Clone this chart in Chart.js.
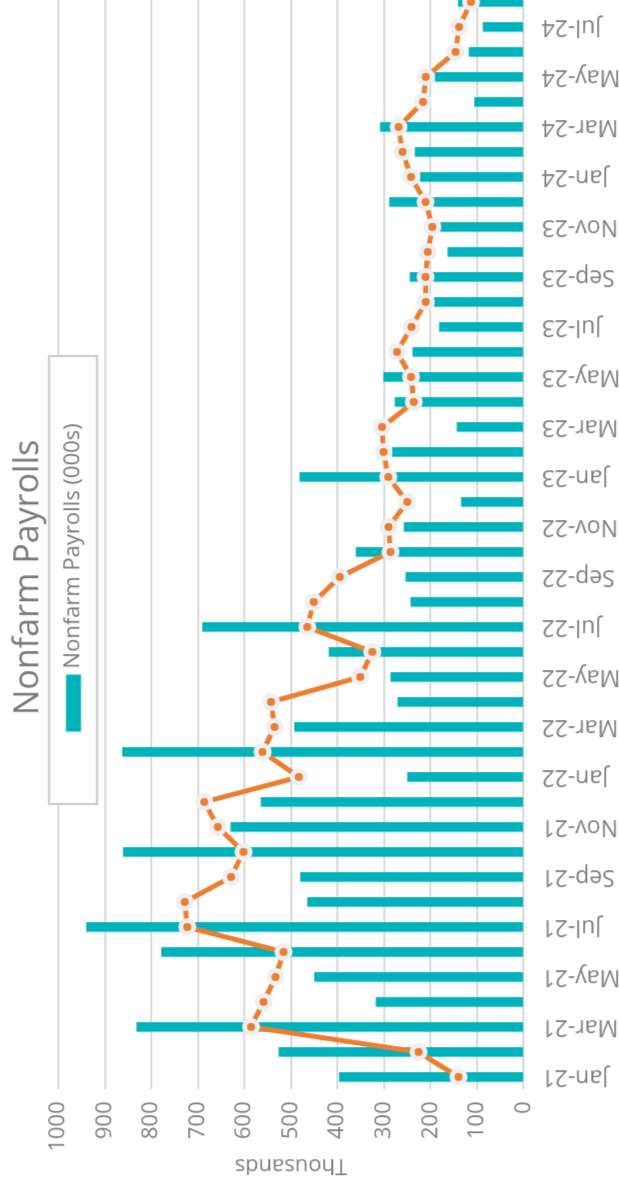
<!DOCTYPE html>
<html>
<head>
<meta charset="utf-8">
<script src="https://cdn.jsdelivr.net/npm/chart.js@4.4.1/dist/chart.umd.min.js"></script>
<style>
  html, body { margin: 0; padding: 0; background: #fff; width: 619px; height: 1179px; overflow: hidden; }
  /* chart is drawn landscape, then turned a quarter turn to the left */
  #wrap { position: absolute; left: 0; top: 0; transform-origin: 0 0; }
  canvas { display: block; }
</style>
</head>
<body>
<div id="wrap"></div>
<script>
const months = [
  "Jan-21", "Feb-21", "Mar-21", "Apr-21", "May-21", "Jun-21", "Jul-21", "Aug-21", "Sep-21", "Oct-21", "Nov-21", "Dec-21",
  "Jan-22", "Feb-22", "Mar-22", "Apr-22", "May-22", "Jun-22", "Jul-22", "Aug-22", "Sep-22", "Oct-22", "Nov-22", "Dec-22",
  "Jan-23", "Feb-23", "Mar-23", "Apr-23", "May-23", "Jun-23", "Jul-23", "Aug-23", "Sep-23", "Oct-23", "Nov-23", "Dec-23",
  "Jan-24", "Feb-24", "Mar-24", "Apr-24", "May-24", "Jun-24", "Jul-24", "Aug-24",
];

// monthly change, thousands
const payrolls = [
  396, 526, 831, 317, 449, 778, 939, 464, 479, 860, 629, 564,
  249, 862, 492, 270, 285, 418, 690, 242, 253, 360, 257, 134,
  481, 282, 143, 276, 301, 238, 181, 192, 244, 163, 179, 288,
  222, 233, 308, 105, 190, 117, 87, 140,
];

// 3-month average line
const average = [
  140, 226, 586, 559, 533, 516, 723, 728, 629, 602, 657, 686,
  483, 561, 535, 543, 351, 325, 465, 451, 395, 286, 290, 250,
  291, 301, 304, 236, 242, 272, 241, 210, 211, 206, 196, 211,
  242, 260, 269, 216, 210, 146, 139, 113,
];

const valueTicks = [0, 100, 200, 300, 400, 500, 600, 700, 800, 900, 1000];

const titleText = "Nonfarm Payrolls";
const textGray = "#7b7b7b";
const font = "'Open Sans', sans-serif";

// where the plot should land on the page (landscape coords before turning)
const PLOT_LEFT = 1089.5;   // page y of the category axis start
const PLOT_LEN = 1100;      // 44 months * 25px
const PLOT_TOP = 58.3;
const PLOT_DEPTH = 465;

// title plus boxed legend sitting over the top of the plot, like the spreadsheet one
const header = {
  id: "header",
  afterDraw(chart) {
    const ctx = chart.ctx;
    const a = chart.chartArea;
    ctx.save();
    ctx.fillStyle = textGray;
    ctx.font = "34px " + font;
    ctx.textAlign = "center";
    ctx.textBaseline = "middle";
    ctx.fillText(titleText, a.left + 512, a.top - 29.8);

    const cx = a.left + 509.5;
    const boxW = 448, boxH = 48, top = a.top - 9.3;
    ctx.fillStyle = "#fff";
    ctx.strokeStyle = "#c6c6c6";
    ctx.lineWidth = 2;
    ctx.fillRect(cx - boxW / 2, top, boxW, boxH);
    ctx.strokeRect(cx - boxW / 2, top, boxW, boxH);

    const label = chart.data.datasets[1].label;
    ctx.font = "22px " + font;
    ctx.textAlign = "left";
    const tw = ctx.measureText(label).width;
    const mw = 57, mh = 15, gap = 6;
    const x0 = a.left + 512 - (mw + gap + tw) / 2;
    ctx.fillStyle = chart.data.datasets[1].backgroundColor;
    ctx.fillRect(x0, top + 17, mw, mh);
    ctx.fillStyle = textGray;
    ctx.fillText(label, x0 + mw + gap, top + 24);
    ctx.restore();
  },
};

function build(w, h) {
  const wrap = document.getElementById("wrap");
  wrap.innerHTML = "";
  const canvas = document.createElement("canvas");
  canvas.width = w;
  canvas.height = h;
  canvas.style.width = w + "px";
  canvas.style.height = h + "px";
  wrap.appendChild(canvas);
  return new Chart(canvas.getContext("2d"), {
    type: "bar",
    data: {
      labels: months,
      datasets: [
        {
          type: "line",
          label: "3-month average",
          data: average,
          borderColor: "#ed7d31",
          borderWidth: 5,
          pointRadius: 6.5,
          pointBorderWidth: 5,
          pointBackgroundColor: "#ed7d31",
          pointBorderColor: "#eeeff1",
          tension: 0,
          order: 0,
        },
        {
          label: "Nonfarm Payrolls (000s)",
          data: payrolls,
          backgroundColor: "#00b2bb",
          barThickness: 9,
          order: 1,
        },
      ],
    },
    options: {
      responsive: false,
      maintainAspectRatio: false,
      animation: false,
      layout: { padding: { top: 50 } },
      plugins: {
        legend: { display: false },
        tooltip: { enabled: false },
        title: { display: false },
      },
      scales: {
        x: {
          grid: { display: false, drawTicks: false },
          border: { display: false },
          ticks: {
            autoSkip: false,
            minRotation: 90,
            maxRotation: 90,
            padding: 18,
            color: "#808080",
            font: { family: font, size: 23 },
            callback: function (value, index) {
              return index % 2 === 0 ? this.getLabelForValue(value) : "";
            },
          },
        },
        y: {
          min: 0,
          max: 1000,
          afterBuildTicks: (axis) => {
            axis.ticks = valueTicks.map((v) => ({ value: v }));
          },
          grid: { color: "#d9d9d9", lineWidth: 2, drawTicks: false },
          border: { display: false },
          ticks: {
            padding: 12,
            color: "#808080",
            font: { family: font, size: 22 },
            callback: (v) => String(v),
          },
          title: {
            display: true,
            text: "Thousands",
            color: "#808080",
            font: { family: font, size: 22 },
            padding: { top: 2, bottom: -12 },
          },
        },
      },
    },
    plugins: [header],
  });
}

// first pass to learn the axis sizes, second pass at the size that fits
let chart = build(1240, 634);
let area = chart.chartArea;
const w = Math.round(1240 + PLOT_LEN - (area.right - area.left));
const h = Math.round(634 + PLOT_DEPTH - (area.bottom - area.top));
chart.destroy();
chart = build(w, h);
area = chart.chartArea;

const ty = PLOT_LEFT + area.left;
const tx = PLOT_TOP - area.top;
document.getElementById("wrap").style.transform =
  "translate(" + tx + "px," + ty + "px) rotate(-90deg)";
</script>
</body>
</html>
